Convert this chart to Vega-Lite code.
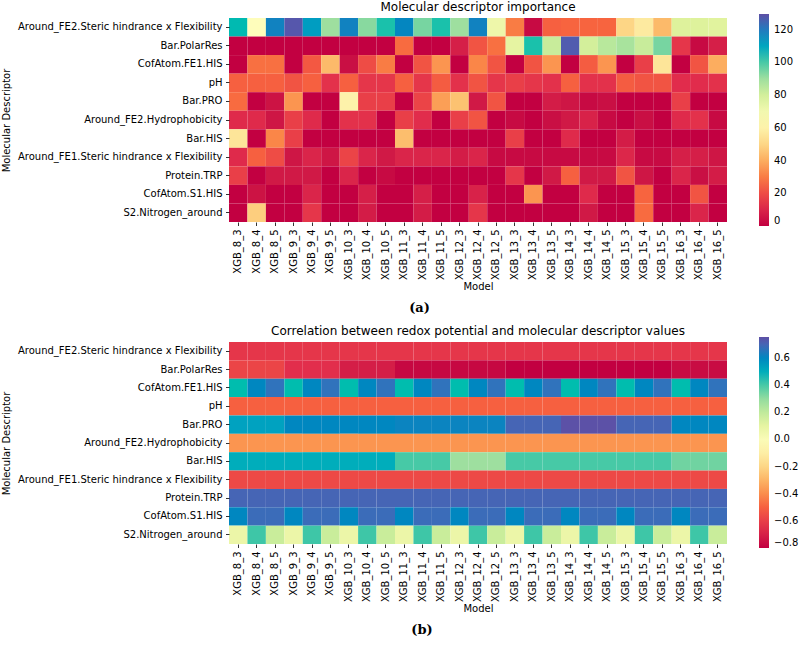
{
"$schema": "https://vega.github.io/schema/vega-lite/v6.json",
"padding": {"left": 1, "top": 1, "right": 2, "bottom": 0},
"config": {
 "font": "DejaVu Sans",
 "view": {"stroke": null},
 "axis": {"labelFont": "DejaVu Sans", "labelFontSize": 10, "labelColor": "#000", "titleFont": "DejaVu Sans", "titleFontSize": 10, "titleFontWeight": "normal", "titleColor": "#000", "tickColor": "#000", "tickSize": 3.5, "tickWidth": 0.8, "labelPadding": 3.5, "titlePadding": 4, "domain": false, "grid": false, "labelLimit": 400},
 "axisX": {"titlePadding": 2},
 "axisY": {"titlePadding": 18},
 "legend": {"labelFont": "DejaVu Sans", "labelFontSize": 10, "labelColor": "#000"},
 "title": {"font": "DejaVu Sans", "color": "#000"}
},
"datasets": {
"imp": [
{"model":"XGB_8_3","descriptor":"Around_FE2.Steric hindrance x Flexibility","value":105},
{"model":"XGB_8_4","descriptor":"Around_FE2.Steric hindrance x Flexibility","value":65},
{"model":"XGB_8_5","descriptor":"Around_FE2.Steric hindrance x Flexibility","value":118},
{"model":"XGB_9_3","descriptor":"Around_FE2.Steric hindrance x Flexibility","value":128},
{"model":"XGB_9_4","descriptor":"Around_FE2.Steric hindrance x Flexibility","value":112},
{"model":"XGB_9_5","descriptor":"Around_FE2.Steric hindrance x Flexibility","value":90},
{"model":"XGB_10_3","descriptor":"Around_FE2.Steric hindrance x Flexibility","value":118},
{"model":"XGB_10_4","descriptor":"Around_FE2.Steric hindrance x Flexibility","value":93},
{"model":"XGB_10_5","descriptor":"Around_FE2.Steric hindrance x Flexibility","value":103},
{"model":"XGB_11_3","descriptor":"Around_FE2.Steric hindrance x Flexibility","value":117},
{"model":"XGB_11_4","descriptor":"Around_FE2.Steric hindrance x Flexibility","value":95},
{"model":"XGB_11_5","descriptor":"Around_FE2.Steric hindrance x Flexibility","value":103},
{"model":"XGB_12_3","descriptor":"Around_FE2.Steric hindrance x Flexibility","value":90},
{"model":"XGB_12_4","descriptor":"Around_FE2.Steric hindrance x Flexibility","value":118},
{"model":"XGB_12_5","descriptor":"Around_FE2.Steric hindrance x Flexibility","value":72},
{"model":"XGB_13_3","descriptor":"Around_FE2.Steric hindrance x Flexibility","value":30},
{"model":"XGB_13_4","descriptor":"Around_FE2.Steric hindrance x Flexibility","value":2},
{"model":"XGB_13_5","descriptor":"Around_FE2.Steric hindrance x Flexibility","value":25},
{"model":"XGB_14_3","descriptor":"Around_FE2.Steric hindrance x Flexibility","value":26},
{"model":"XGB_14_4","descriptor":"Around_FE2.Steric hindrance x Flexibility","value":26},
{"model":"XGB_14_5","descriptor":"Around_FE2.Steric hindrance x Flexibility","value":26},
{"model":"XGB_15_3","descriptor":"Around_FE2.Steric hindrance x Flexibility","value":50},
{"model":"XGB_15_4","descriptor":"Around_FE2.Steric hindrance x Flexibility","value":57},
{"model":"XGB_15_5","descriptor":"Around_FE2.Steric hindrance x Flexibility","value":43},
{"model":"XGB_16_3","descriptor":"Around_FE2.Steric hindrance x Flexibility","value":78},
{"model":"XGB_16_4","descriptor":"Around_FE2.Steric hindrance x Flexibility","value":78},
{"model":"XGB_16_5","descriptor":"Around_FE2.Steric hindrance x Flexibility","value":77},
{"model":"XGB_8_3","descriptor":"Bar.PolarRes","value":0},
{"model":"XGB_8_4","descriptor":"Bar.PolarRes","value":0},
{"model":"XGB_8_5","descriptor":"Bar.PolarRes","value":0},
{"model":"XGB_9_3","descriptor":"Bar.PolarRes","value":0},
{"model":"XGB_9_4","descriptor":"Bar.PolarRes","value":0},
{"model":"XGB_9_5","descriptor":"Bar.PolarRes","value":0},
{"model":"XGB_10_3","descriptor":"Bar.PolarRes","value":0},
{"model":"XGB_10_4","descriptor":"Bar.PolarRes","value":0},
{"model":"XGB_10_5","descriptor":"Bar.PolarRes","value":0},
{"model":"XGB_11_3","descriptor":"Bar.PolarRes","value":27},
{"model":"XGB_11_4","descriptor":"Bar.PolarRes","value":0},
{"model":"XGB_11_5","descriptor":"Bar.PolarRes","value":0},
{"model":"XGB_12_3","descriptor":"Bar.PolarRes","value":8},
{"model":"XGB_12_4","descriptor":"Bar.PolarRes","value":22},
{"model":"XGB_12_5","descriptor":"Bar.PolarRes","value":28},
{"model":"XGB_13_3","descriptor":"Bar.PolarRes","value":75},
{"model":"XGB_13_4","descriptor":"Bar.PolarRes","value":103},
{"model":"XGB_13_5","descriptor":"Bar.PolarRes","value":82},
{"model":"XGB_14_3","descriptor":"Bar.PolarRes","value":127},
{"model":"XGB_14_4","descriptor":"Bar.PolarRes","value":80},
{"model":"XGB_14_5","descriptor":"Bar.PolarRes","value":85},
{"model":"XGB_15_3","descriptor":"Bar.PolarRes","value":88},
{"model":"XGB_15_4","descriptor":"Bar.PolarRes","value":82},
{"model":"XGB_15_5","descriptor":"Bar.PolarRes","value":95},
{"model":"XGB_16_3","descriptor":"Bar.PolarRes","value":15},
{"model":"XGB_16_4","descriptor":"Bar.PolarRes","value":2},
{"model":"XGB_16_5","descriptor":"Bar.PolarRes","value":8},
{"model":"XGB_8_3","descriptor":"CofAtom.FE1.HIS","value":0},
{"model":"XGB_8_4","descriptor":"CofAtom.FE1.HIS","value":28},
{"model":"XGB_8_5","descriptor":"CofAtom.FE1.HIS","value":28},
{"model":"XGB_9_3","descriptor":"CofAtom.FE1.HIS","value":0},
{"model":"XGB_9_4","descriptor":"CofAtom.FE1.HIS","value":23},
{"model":"XGB_9_5","descriptor":"CofAtom.FE1.HIS","value":43},
{"model":"XGB_10_3","descriptor":"CofAtom.FE1.HIS","value":3},
{"model":"XGB_10_4","descriptor":"CofAtom.FE1.HIS","value":20},
{"model":"XGB_10_5","descriptor":"CofAtom.FE1.HIS","value":30},
{"model":"XGB_11_3","descriptor":"CofAtom.FE1.HIS","value":0},
{"model":"XGB_11_4","descriptor":"CofAtom.FE1.HIS","value":22},
{"model":"XGB_11_5","descriptor":"CofAtom.FE1.HIS","value":35},
{"model":"XGB_12_3","descriptor":"CofAtom.FE1.HIS","value":0},
{"model":"XGB_12_4","descriptor":"CofAtom.FE1.HIS","value":32},
{"model":"XGB_12_5","descriptor":"CofAtom.FE1.HIS","value":22},
{"model":"XGB_13_3","descriptor":"CofAtom.FE1.HIS","value":0},
{"model":"XGB_13_4","descriptor":"CofAtom.FE1.HIS","value":22},
{"model":"XGB_13_5","descriptor":"CofAtom.FE1.HIS","value":35},
{"model":"XGB_14_3","descriptor":"CofAtom.FE1.HIS","value":0},
{"model":"XGB_14_4","descriptor":"CofAtom.FE1.HIS","value":24},
{"model":"XGB_14_5","descriptor":"CofAtom.FE1.HIS","value":35},
{"model":"XGB_15_3","descriptor":"CofAtom.FE1.HIS","value":0},
{"model":"XGB_15_4","descriptor":"CofAtom.FE1.HIS","value":17},
{"model":"XGB_15_5","descriptor":"CofAtom.FE1.HIS","value":55},
{"model":"XGB_16_3","descriptor":"CofAtom.FE1.HIS","value":0},
{"model":"XGB_16_4","descriptor":"CofAtom.FE1.HIS","value":22},
{"model":"XGB_16_5","descriptor":"CofAtom.FE1.HIS","value":40},
{"model":"XGB_8_3","descriptor":"pH","value":25},
{"model":"XGB_8_4","descriptor":"pH","value":25},
{"model":"XGB_8_5","descriptor":"pH","value":25},
{"model":"XGB_9_3","descriptor":"pH","value":22},
{"model":"XGB_9_4","descriptor":"pH","value":25},
{"model":"XGB_9_5","descriptor":"pH","value":14},
{"model":"XGB_10_3","descriptor":"pH","value":25},
{"model":"XGB_10_4","descriptor":"pH","value":15},
{"model":"XGB_10_5","descriptor":"pH","value":15},
{"model":"XGB_11_3","descriptor":"pH","value":25},
{"model":"XGB_11_4","descriptor":"pH","value":15},
{"model":"XGB_11_5","descriptor":"pH","value":24},
{"model":"XGB_12_3","descriptor":"pH","value":14},
{"model":"XGB_12_4","descriptor":"pH","value":22},
{"model":"XGB_12_5","descriptor":"pH","value":15},
{"model":"XGB_13_3","descriptor":"pH","value":17},
{"model":"XGB_13_4","descriptor":"pH","value":15},
{"model":"XGB_13_5","descriptor":"pH","value":14},
{"model":"XGB_14_3","descriptor":"pH","value":25},
{"model":"XGB_14_4","descriptor":"pH","value":14},
{"model":"XGB_14_5","descriptor":"pH","value":14},
{"model":"XGB_15_3","descriptor":"pH","value":24},
{"model":"XGB_15_4","descriptor":"pH","value":22},
{"model":"XGB_15_5","descriptor":"pH","value":22},
{"model":"XGB_16_3","descriptor":"pH","value":13},
{"model":"XGB_16_4","descriptor":"pH","value":13},
{"model":"XGB_16_5","descriptor":"pH","value":14},
{"model":"XGB_8_3","descriptor":"Bar.PRO","value":27},
{"model":"XGB_8_4","descriptor":"Bar.PRO","value":0},
{"model":"XGB_8_5","descriptor":"Bar.PRO","value":4},
{"model":"XGB_9_3","descriptor":"Bar.PRO","value":35},
{"model":"XGB_9_4","descriptor":"Bar.PRO","value":0},
{"model":"XGB_9_5","descriptor":"Bar.PRO","value":0},
{"model":"XGB_10_3","descriptor":"Bar.PRO","value":60},
{"model":"XGB_10_4","descriptor":"Bar.PRO","value":17},
{"model":"XGB_10_5","descriptor":"Bar.PRO","value":17},
{"model":"XGB_11_3","descriptor":"Bar.PRO","value":0},
{"model":"XGB_11_4","descriptor":"Bar.PRO","value":18},
{"model":"XGB_11_5","descriptor":"Bar.PRO","value":37},
{"model":"XGB_12_3","descriptor":"Bar.PRO","value":45},
{"model":"XGB_12_4","descriptor":"Bar.PRO","value":6},
{"model":"XGB_12_5","descriptor":"Bar.PRO","value":22},
{"model":"XGB_13_3","descriptor":"Bar.PRO","value":0},
{"model":"XGB_13_4","descriptor":"Bar.PRO","value":0},
{"model":"XGB_13_5","descriptor":"Bar.PRO","value":7},
{"model":"XGB_14_3","descriptor":"Bar.PRO","value":5},
{"model":"XGB_14_4","descriptor":"Bar.PRO","value":2},
{"model":"XGB_14_5","descriptor":"Bar.PRO","value":3},
{"model":"XGB_15_3","descriptor":"Bar.PRO","value":0},
{"model":"XGB_15_4","descriptor":"Bar.PRO","value":0},
{"model":"XGB_15_5","descriptor":"Bar.PRO","value":0},
{"model":"XGB_16_3","descriptor":"Bar.PRO","value":17},
{"model":"XGB_16_4","descriptor":"Bar.PRO","value":0},
{"model":"XGB_16_5","descriptor":"Bar.PRO","value":0},
{"model":"XGB_8_3","descriptor":"Around_FE2.Hydrophobicity","value":12},
{"model":"XGB_8_4","descriptor":"Around_FE2.Hydrophobicity","value":12},
{"model":"XGB_8_5","descriptor":"Around_FE2.Hydrophobicity","value":5},
{"model":"XGB_9_3","descriptor":"Around_FE2.Hydrophobicity","value":17},
{"model":"XGB_9_4","descriptor":"Around_FE2.Hydrophobicity","value":12},
{"model":"XGB_9_5","descriptor":"Around_FE2.Hydrophobicity","value":0},
{"model":"XGB_10_3","descriptor":"Around_FE2.Hydrophobicity","value":14},
{"model":"XGB_10_4","descriptor":"Around_FE2.Hydrophobicity","value":14},
{"model":"XGB_10_5","descriptor":"Around_FE2.Hydrophobicity","value":0},
{"model":"XGB_11_3","descriptor":"Around_FE2.Hydrophobicity","value":17},
{"model":"XGB_11_4","descriptor":"Around_FE2.Hydrophobicity","value":13},
{"model":"XGB_11_5","descriptor":"Around_FE2.Hydrophobicity","value":0},
{"model":"XGB_12_3","descriptor":"Around_FE2.Hydrophobicity","value":17},
{"model":"XGB_12_4","descriptor":"Around_FE2.Hydrophobicity","value":22},
{"model":"XGB_12_5","descriptor":"Around_FE2.Hydrophobicity","value":0},
{"model":"XGB_13_3","descriptor":"Around_FE2.Hydrophobicity","value":2},
{"model":"XGB_13_4","descriptor":"Around_FE2.Hydrophobicity","value":0},
{"model":"XGB_13_5","descriptor":"Around_FE2.Hydrophobicity","value":3},
{"model":"XGB_14_3","descriptor":"Around_FE2.Hydrophobicity","value":6},
{"model":"XGB_14_4","descriptor":"Around_FE2.Hydrophobicity","value":9},
{"model":"XGB_14_5","descriptor":"Around_FE2.Hydrophobicity","value":2},
{"model":"XGB_15_3","descriptor":"Around_FE2.Hydrophobicity","value":0},
{"model":"XGB_15_4","descriptor":"Around_FE2.Hydrophobicity","value":3},
{"model":"XGB_15_5","descriptor":"Around_FE2.Hydrophobicity","value":0},
{"model":"XGB_16_3","descriptor":"Around_FE2.Hydrophobicity","value":12},
{"model":"XGB_16_4","descriptor":"Around_FE2.Hydrophobicity","value":14},
{"model":"XGB_16_5","descriptor":"Around_FE2.Hydrophobicity","value":2},
{"model":"XGB_8_3","descriptor":"Bar.HIS","value":55},
{"model":"XGB_8_4","descriptor":"Bar.HIS","value":0},
{"model":"XGB_8_5","descriptor":"Bar.HIS","value":32},
{"model":"XGB_9_3","descriptor":"Bar.HIS","value":17},
{"model":"XGB_9_4","descriptor":"Bar.HIS","value":0},
{"model":"XGB_9_5","descriptor":"Bar.HIS","value":0},
{"model":"XGB_10_3","descriptor":"Bar.HIS","value":0},
{"model":"XGB_10_4","descriptor":"Bar.HIS","value":0},
{"model":"XGB_10_5","descriptor":"Bar.HIS","value":0},
{"model":"XGB_11_3","descriptor":"Bar.HIS","value":44},
{"model":"XGB_11_4","descriptor":"Bar.HIS","value":0},
{"model":"XGB_11_5","descriptor":"Bar.HIS","value":0},
{"model":"XGB_12_3","descriptor":"Bar.HIS","value":0},
{"model":"XGB_12_4","descriptor":"Bar.HIS","value":0},
{"model":"XGB_12_5","descriptor":"Bar.HIS","value":0},
{"model":"XGB_13_3","descriptor":"Bar.HIS","value":17},
{"model":"XGB_13_4","descriptor":"Bar.HIS","value":0},
{"model":"XGB_13_5","descriptor":"Bar.HIS","value":0},
{"model":"XGB_14_3","descriptor":"Bar.HIS","value":12},
{"model":"XGB_14_4","descriptor":"Bar.HIS","value":0},
{"model":"XGB_14_5","descriptor":"Bar.HIS","value":0},
{"model":"XGB_15_3","descriptor":"Bar.HIS","value":7},
{"model":"XGB_15_4","descriptor":"Bar.HIS","value":0},
{"model":"XGB_15_5","descriptor":"Bar.HIS","value":0},
{"model":"XGB_16_3","descriptor":"Bar.HIS","value":0},
{"model":"XGB_16_4","descriptor":"Bar.HIS","value":0},
{"model":"XGB_16_5","descriptor":"Bar.HIS","value":0},
{"model":"XGB_8_3","descriptor":"Around_FE1.Steric hindrance x Flexibility","value":12},
{"model":"XGB_8_4","descriptor":"Around_FE1.Steric hindrance x Flexibility","value":25},
{"model":"XGB_8_5","descriptor":"Around_FE1.Steric hindrance x Flexibility","value":20},
{"model":"XGB_9_3","descriptor":"Around_FE1.Steric hindrance x Flexibility","value":5},
{"model":"XGB_9_4","descriptor":"Around_FE1.Steric hindrance x Flexibility","value":10},
{"model":"XGB_9_5","descriptor":"Around_FE1.Steric hindrance x Flexibility","value":5},
{"model":"XGB_10_3","descriptor":"Around_FE1.Steric hindrance x Flexibility","value":18},
{"model":"XGB_10_4","descriptor":"Around_FE1.Steric hindrance x Flexibility","value":10},
{"model":"XGB_10_5","descriptor":"Around_FE1.Steric hindrance x Flexibility","value":6},
{"model":"XGB_11_3","descriptor":"Around_FE1.Steric hindrance x Flexibility","value":10},
{"model":"XGB_11_4","descriptor":"Around_FE1.Steric hindrance x Flexibility","value":10},
{"model":"XGB_11_5","descriptor":"Around_FE1.Steric hindrance x Flexibility","value":10},
{"model":"XGB_12_3","descriptor":"Around_FE1.Steric hindrance x Flexibility","value":7},
{"model":"XGB_12_4","descriptor":"Around_FE1.Steric hindrance x Flexibility","value":10},
{"model":"XGB_12_5","descriptor":"Around_FE1.Steric hindrance x Flexibility","value":2},
{"model":"XGB_13_3","descriptor":"Around_FE1.Steric hindrance x Flexibility","value":2},
{"model":"XGB_13_4","descriptor":"Around_FE1.Steric hindrance x Flexibility","value":2},
{"model":"XGB_13_5","descriptor":"Around_FE1.Steric hindrance x Flexibility","value":2},
{"model":"XGB_14_3","descriptor":"Around_FE1.Steric hindrance x Flexibility","value":2},
{"model":"XGB_14_4","descriptor":"Around_FE1.Steric hindrance x Flexibility","value":2},
{"model":"XGB_14_5","descriptor":"Around_FE1.Steric hindrance x Flexibility","value":2},
{"model":"XGB_15_3","descriptor":"Around_FE1.Steric hindrance x Flexibility","value":11},
{"model":"XGB_15_4","descriptor":"Around_FE1.Steric hindrance x Flexibility","value":2},
{"model":"XGB_15_5","descriptor":"Around_FE1.Steric hindrance x Flexibility","value":2},
{"model":"XGB_16_3","descriptor":"Around_FE1.Steric hindrance x Flexibility","value":8},
{"model":"XGB_16_4","descriptor":"Around_FE1.Steric hindrance x Flexibility","value":8},
{"model":"XGB_16_5","descriptor":"Around_FE1.Steric hindrance x Flexibility","value":5},
{"model":"XGB_8_3","descriptor":"Protein.TRP","value":17},
{"model":"XGB_8_4","descriptor":"Protein.TRP","value":0},
{"model":"XGB_8_5","descriptor":"Protein.TRP","value":6},
{"model":"XGB_9_3","descriptor":"Protein.TRP","value":6},
{"model":"XGB_9_4","descriptor":"Protein.TRP","value":6},
{"model":"XGB_9_5","descriptor":"Protein.TRP","value":0},
{"model":"XGB_10_3","descriptor":"Protein.TRP","value":10},
{"model":"XGB_10_4","descriptor":"Protein.TRP","value":0},
{"model":"XGB_10_5","descriptor":"Protein.TRP","value":2},
{"model":"XGB_11_3","descriptor":"Protein.TRP","value":0},
{"model":"XGB_11_4","descriptor":"Protein.TRP","value":0},
{"model":"XGB_11_5","descriptor":"Protein.TRP","value":0},
{"model":"XGB_12_3","descriptor":"Protein.TRP","value":0},
{"model":"XGB_12_4","descriptor":"Protein.TRP","value":0},
{"model":"XGB_12_5","descriptor":"Protein.TRP","value":0},
{"model":"XGB_13_3","descriptor":"Protein.TRP","value":15},
{"model":"XGB_13_4","descriptor":"Protein.TRP","value":0},
{"model":"XGB_13_5","descriptor":"Protein.TRP","value":6},
{"model":"XGB_14_3","descriptor":"Protein.TRP","value":25},
{"model":"XGB_14_4","descriptor":"Protein.TRP","value":6},
{"model":"XGB_14_5","descriptor":"Protein.TRP","value":6},
{"model":"XGB_15_3","descriptor":"Protein.TRP","value":22},
{"model":"XGB_15_4","descriptor":"Protein.TRP","value":5},
{"model":"XGB_15_5","descriptor":"Protein.TRP","value":0},
{"model":"XGB_16_3","descriptor":"Protein.TRP","value":10},
{"model":"XGB_16_4","descriptor":"Protein.TRP","value":3},
{"model":"XGB_16_5","descriptor":"Protein.TRP","value":7},
{"model":"XGB_8_3","descriptor":"CofAtom.S1.HIS","value":0},
{"model":"XGB_8_4","descriptor":"CofAtom.S1.HIS","value":4},
{"model":"XGB_8_5","descriptor":"CofAtom.S1.HIS","value":0},
{"model":"XGB_9_3","descriptor":"CofAtom.S1.HIS","value":0},
{"model":"XGB_9_4","descriptor":"CofAtom.S1.HIS","value":10},
{"model":"XGB_9_5","descriptor":"CofAtom.S1.HIS","value":0},
{"model":"XGB_10_3","descriptor":"CofAtom.S1.HIS","value":0},
{"model":"XGB_10_4","descriptor":"CofAtom.S1.HIS","value":8},
{"model":"XGB_10_5","descriptor":"CofAtom.S1.HIS","value":0},
{"model":"XGB_11_3","descriptor":"CofAtom.S1.HIS","value":0},
{"model":"XGB_11_4","descriptor":"CofAtom.S1.HIS","value":8},
{"model":"XGB_11_5","descriptor":"CofAtom.S1.HIS","value":0},
{"model":"XGB_12_3","descriptor":"CofAtom.S1.HIS","value":0},
{"model":"XGB_12_4","descriptor":"CofAtom.S1.HIS","value":9},
{"model":"XGB_12_5","descriptor":"CofAtom.S1.HIS","value":0},
{"model":"XGB_13_3","descriptor":"CofAtom.S1.HIS","value":0},
{"model":"XGB_13_4","descriptor":"CofAtom.S1.HIS","value":35},
{"model":"XGB_13_5","descriptor":"CofAtom.S1.HIS","value":0},
{"model":"XGB_14_3","descriptor":"CofAtom.S1.HIS","value":0},
{"model":"XGB_14_4","descriptor":"CofAtom.S1.HIS","value":12},
{"model":"XGB_14_5","descriptor":"CofAtom.S1.HIS","value":0},
{"model":"XGB_15_3","descriptor":"CofAtom.S1.HIS","value":0},
{"model":"XGB_15_4","descriptor":"CofAtom.S1.HIS","value":26},
{"model":"XGB_15_5","descriptor":"CofAtom.S1.HIS","value":0},
{"model":"XGB_16_3","descriptor":"CofAtom.S1.HIS","value":0},
{"model":"XGB_16_4","descriptor":"CofAtom.S1.HIS","value":22},
{"model":"XGB_16_5","descriptor":"CofAtom.S1.HIS","value":0},
{"model":"XGB_8_3","descriptor":"S2.Nitrogen_around","value":0},
{"model":"XGB_8_4","descriptor":"S2.Nitrogen_around","value":48},
{"model":"XGB_8_5","descriptor":"S2.Nitrogen_around","value":0},
{"model":"XGB_9_3","descriptor":"S2.Nitrogen_around","value":0},
{"model":"XGB_9_4","descriptor":"S2.Nitrogen_around","value":15},
{"model":"XGB_9_5","descriptor":"S2.Nitrogen_around","value":0},
{"model":"XGB_10_3","descriptor":"S2.Nitrogen_around","value":0},
{"model":"XGB_10_4","descriptor":"S2.Nitrogen_around","value":7},
{"model":"XGB_10_5","descriptor":"S2.Nitrogen_around","value":0},
{"model":"XGB_11_3","descriptor":"S2.Nitrogen_around","value":0},
{"model":"XGB_11_4","descriptor":"S2.Nitrogen_around","value":7},
{"model":"XGB_11_5","descriptor":"S2.Nitrogen_around","value":0},
{"model":"XGB_12_3","descriptor":"S2.Nitrogen_around","value":0},
{"model":"XGB_12_4","descriptor":"S2.Nitrogen_around","value":15},
{"model":"XGB_12_5","descriptor":"S2.Nitrogen_around","value":0},
{"model":"XGB_13_3","descriptor":"S2.Nitrogen_around","value":0},
{"model":"XGB_13_4","descriptor":"S2.Nitrogen_around","value":0},
{"model":"XGB_13_5","descriptor":"S2.Nitrogen_around","value":0},
{"model":"XGB_14_3","descriptor":"S2.Nitrogen_around","value":0},
{"model":"XGB_14_4","descriptor":"S2.Nitrogen_around","value":6},
{"model":"XGB_14_5","descriptor":"S2.Nitrogen_around","value":0},
{"model":"XGB_15_3","descriptor":"S2.Nitrogen_around","value":0},
{"model":"XGB_15_4","descriptor":"S2.Nitrogen_around","value":27},
{"model":"XGB_15_5","descriptor":"S2.Nitrogen_around","value":0},
{"model":"XGB_16_3","descriptor":"S2.Nitrogen_around","value":0},
{"model":"XGB_16_4","descriptor":"S2.Nitrogen_around","value":10},
{"model":"XGB_16_5","descriptor":"S2.Nitrogen_around","value":0}
],
"cor": [
{"model":"XGB_8_3","descriptor":"Around_FE2.Steric hindrance x Flexibility","value":-0.62},
{"model":"XGB_8_4","descriptor":"Around_FE2.Steric hindrance x Flexibility","value":-0.62},
{"model":"XGB_8_5","descriptor":"Around_FE2.Steric hindrance x Flexibility","value":-0.62},
{"model":"XGB_9_3","descriptor":"Around_FE2.Steric hindrance x Flexibility","value":-0.62},
{"model":"XGB_9_4","descriptor":"Around_FE2.Steric hindrance x Flexibility","value":-0.62},
{"model":"XGB_9_5","descriptor":"Around_FE2.Steric hindrance x Flexibility","value":-0.62},
{"model":"XGB_10_3","descriptor":"Around_FE2.Steric hindrance x Flexibility","value":-0.62},
{"model":"XGB_10_4","descriptor":"Around_FE2.Steric hindrance x Flexibility","value":-0.62},
{"model":"XGB_10_5","descriptor":"Around_FE2.Steric hindrance x Flexibility","value":-0.62},
{"model":"XGB_11_3","descriptor":"Around_FE2.Steric hindrance x Flexibility","value":-0.62},
{"model":"XGB_11_4","descriptor":"Around_FE2.Steric hindrance x Flexibility","value":-0.62},
{"model":"XGB_11_5","descriptor":"Around_FE2.Steric hindrance x Flexibility","value":-0.62},
{"model":"XGB_12_3","descriptor":"Around_FE2.Steric hindrance x Flexibility","value":-0.62},
{"model":"XGB_12_4","descriptor":"Around_FE2.Steric hindrance x Flexibility","value":-0.62},
{"model":"XGB_12_5","descriptor":"Around_FE2.Steric hindrance x Flexibility","value":-0.62},
{"model":"XGB_13_3","descriptor":"Around_FE2.Steric hindrance x Flexibility","value":-0.62},
{"model":"XGB_13_4","descriptor":"Around_FE2.Steric hindrance x Flexibility","value":-0.62},
{"model":"XGB_13_5","descriptor":"Around_FE2.Steric hindrance x Flexibility","value":-0.62},
{"model":"XGB_14_3","descriptor":"Around_FE2.Steric hindrance x Flexibility","value":-0.62},
{"model":"XGB_14_4","descriptor":"Around_FE2.Steric hindrance x Flexibility","value":-0.62},
{"model":"XGB_14_5","descriptor":"Around_FE2.Steric hindrance x Flexibility","value":-0.62},
{"model":"XGB_15_3","descriptor":"Around_FE2.Steric hindrance x Flexibility","value":-0.62},
{"model":"XGB_15_4","descriptor":"Around_FE2.Steric hindrance x Flexibility","value":-0.62},
{"model":"XGB_15_5","descriptor":"Around_FE2.Steric hindrance x Flexibility","value":-0.62},
{"model":"XGB_16_3","descriptor":"Around_FE2.Steric hindrance x Flexibility","value":-0.62},
{"model":"XGB_16_4","descriptor":"Around_FE2.Steric hindrance x Flexibility","value":-0.62},
{"model":"XGB_16_5","descriptor":"Around_FE2.Steric hindrance x Flexibility","value":-0.62},
{"model":"XGB_8_3","descriptor":"Bar.PolarRes","value":-0.58},
{"model":"XGB_8_4","descriptor":"Bar.PolarRes","value":-0.58},
{"model":"XGB_8_5","descriptor":"Bar.PolarRes","value":-0.58},
{"model":"XGB_9_3","descriptor":"Bar.PolarRes","value":-0.64},
{"model":"XGB_9_4","descriptor":"Bar.PolarRes","value":-0.64},
{"model":"XGB_9_5","descriptor":"Bar.PolarRes","value":-0.64},
{"model":"XGB_10_3","descriptor":"Bar.PolarRes","value":-0.71},
{"model":"XGB_10_4","descriptor":"Bar.PolarRes","value":-0.71},
{"model":"XGB_10_5","descriptor":"Bar.PolarRes","value":-0.71},
{"model":"XGB_11_3","descriptor":"Bar.PolarRes","value":-0.78},
{"model":"XGB_11_4","descriptor":"Bar.PolarRes","value":-0.78},
{"model":"XGB_11_5","descriptor":"Bar.PolarRes","value":-0.78},
{"model":"XGB_12_3","descriptor":"Bar.PolarRes","value":-0.78},
{"model":"XGB_12_4","descriptor":"Bar.PolarRes","value":-0.78},
{"model":"XGB_12_5","descriptor":"Bar.PolarRes","value":-0.78},
{"model":"XGB_13_3","descriptor":"Bar.PolarRes","value":-0.8},
{"model":"XGB_13_4","descriptor":"Bar.PolarRes","value":-0.8},
{"model":"XGB_13_5","descriptor":"Bar.PolarRes","value":-0.8},
{"model":"XGB_14_3","descriptor":"Bar.PolarRes","value":-0.8},
{"model":"XGB_14_4","descriptor":"Bar.PolarRes","value":-0.8},
{"model":"XGB_14_5","descriptor":"Bar.PolarRes","value":-0.8},
{"model":"XGB_15_3","descriptor":"Bar.PolarRes","value":-0.8},
{"model":"XGB_15_4","descriptor":"Bar.PolarRes","value":-0.8},
{"model":"XGB_15_5","descriptor":"Bar.PolarRes","value":-0.8},
{"model":"XGB_16_3","descriptor":"Bar.PolarRes","value":-0.77},
{"model":"XGB_16_4","descriptor":"Bar.PolarRes","value":-0.77},
{"model":"XGB_16_5","descriptor":"Bar.PolarRes","value":-0.77},
{"model":"XGB_8_3","descriptor":"CofAtom.FE1.HIS","value":0.45},
{"model":"XGB_8_4","descriptor":"CofAtom.FE1.HIS","value":0.6},
{"model":"XGB_8_5","descriptor":"CofAtom.FE1.HIS","value":0.66},
{"model":"XGB_9_3","descriptor":"CofAtom.FE1.HIS","value":0.45},
{"model":"XGB_9_4","descriptor":"CofAtom.FE1.HIS","value":0.6},
{"model":"XGB_9_5","descriptor":"CofAtom.FE1.HIS","value":0.66},
{"model":"XGB_10_3","descriptor":"CofAtom.FE1.HIS","value":0.45},
{"model":"XGB_10_4","descriptor":"CofAtom.FE1.HIS","value":0.6},
{"model":"XGB_10_5","descriptor":"CofAtom.FE1.HIS","value":0.66},
{"model":"XGB_11_3","descriptor":"CofAtom.FE1.HIS","value":0.45},
{"model":"XGB_11_4","descriptor":"CofAtom.FE1.HIS","value":0.6},
{"model":"XGB_11_5","descriptor":"CofAtom.FE1.HIS","value":0.66},
{"model":"XGB_12_3","descriptor":"CofAtom.FE1.HIS","value":0.45},
{"model":"XGB_12_4","descriptor":"CofAtom.FE1.HIS","value":0.6},
{"model":"XGB_12_5","descriptor":"CofAtom.FE1.HIS","value":0.66},
{"model":"XGB_13_3","descriptor":"CofAtom.FE1.HIS","value":0.45},
{"model":"XGB_13_4","descriptor":"CofAtom.FE1.HIS","value":0.6},
{"model":"XGB_13_5","descriptor":"CofAtom.FE1.HIS","value":0.66},
{"model":"XGB_14_3","descriptor":"CofAtom.FE1.HIS","value":0.45},
{"model":"XGB_14_4","descriptor":"CofAtom.FE1.HIS","value":0.6},
{"model":"XGB_14_5","descriptor":"CofAtom.FE1.HIS","value":0.66},
{"model":"XGB_15_3","descriptor":"CofAtom.FE1.HIS","value":0.45},
{"model":"XGB_15_4","descriptor":"CofAtom.FE1.HIS","value":0.6},
{"model":"XGB_15_5","descriptor":"CofAtom.FE1.HIS","value":0.66},
{"model":"XGB_16_3","descriptor":"CofAtom.FE1.HIS","value":0.45},
{"model":"XGB_16_4","descriptor":"CofAtom.FE1.HIS","value":0.6},
{"model":"XGB_16_5","descriptor":"CofAtom.FE1.HIS","value":0.66},
{"model":"XGB_8_3","descriptor":"pH","value":-0.5},
{"model":"XGB_8_4","descriptor":"pH","value":-0.5},
{"model":"XGB_8_5","descriptor":"pH","value":-0.5},
{"model":"XGB_9_3","descriptor":"pH","value":-0.5},
{"model":"XGB_9_4","descriptor":"pH","value":-0.5},
{"model":"XGB_9_5","descriptor":"pH","value":-0.5},
{"model":"XGB_10_3","descriptor":"pH","value":-0.5},
{"model":"XGB_10_4","descriptor":"pH","value":-0.5},
{"model":"XGB_10_5","descriptor":"pH","value":-0.5},
{"model":"XGB_11_3","descriptor":"pH","value":-0.5},
{"model":"XGB_11_4","descriptor":"pH","value":-0.5},
{"model":"XGB_11_5","descriptor":"pH","value":-0.5},
{"model":"XGB_12_3","descriptor":"pH","value":-0.5},
{"model":"XGB_12_4","descriptor":"pH","value":-0.5},
{"model":"XGB_12_5","descriptor":"pH","value":-0.5},
{"model":"XGB_13_3","descriptor":"pH","value":-0.5},
{"model":"XGB_13_4","descriptor":"pH","value":-0.5},
{"model":"XGB_13_5","descriptor":"pH","value":-0.5},
{"model":"XGB_14_3","descriptor":"pH","value":-0.5},
{"model":"XGB_14_4","descriptor":"pH","value":-0.5},
{"model":"XGB_14_5","descriptor":"pH","value":-0.5},
{"model":"XGB_15_3","descriptor":"pH","value":-0.5},
{"model":"XGB_15_4","descriptor":"pH","value":-0.5},
{"model":"XGB_15_5","descriptor":"pH","value":-0.5},
{"model":"XGB_16_3","descriptor":"pH","value":-0.5},
{"model":"XGB_16_4","descriptor":"pH","value":-0.5},
{"model":"XGB_16_5","descriptor":"pH","value":-0.5},
{"model":"XGB_8_3","descriptor":"Bar.PRO","value":0.53},
{"model":"XGB_8_4","descriptor":"Bar.PRO","value":0.53},
{"model":"XGB_8_5","descriptor":"Bar.PRO","value":0.53},
{"model":"XGB_9_3","descriptor":"Bar.PRO","value":0.6},
{"model":"XGB_9_4","descriptor":"Bar.PRO","value":0.6},
{"model":"XGB_9_5","descriptor":"Bar.PRO","value":0.6},
{"model":"XGB_10_3","descriptor":"Bar.PRO","value":0.6},
{"model":"XGB_10_4","descriptor":"Bar.PRO","value":0.6},
{"model":"XGB_10_5","descriptor":"Bar.PRO","value":0.6},
{"model":"XGB_11_3","descriptor":"Bar.PRO","value":0.61},
{"model":"XGB_11_4","descriptor":"Bar.PRO","value":0.61},
{"model":"XGB_11_5","descriptor":"Bar.PRO","value":0.61},
{"model":"XGB_12_3","descriptor":"Bar.PRO","value":0.61},
{"model":"XGB_12_4","descriptor":"Bar.PRO","value":0.61},
{"model":"XGB_12_5","descriptor":"Bar.PRO","value":0.61},
{"model":"XGB_13_3","descriptor":"Bar.PRO","value":0.7},
{"model":"XGB_13_4","descriptor":"Bar.PRO","value":0.7},
{"model":"XGB_13_5","descriptor":"Bar.PRO","value":0.7},
{"model":"XGB_14_3","descriptor":"Bar.PRO","value":0.75},
{"model":"XGB_14_4","descriptor":"Bar.PRO","value":0.75},
{"model":"XGB_14_5","descriptor":"Bar.PRO","value":0.75},
{"model":"XGB_15_3","descriptor":"Bar.PRO","value":0.7},
{"model":"XGB_15_4","descriptor":"Bar.PRO","value":0.7},
{"model":"XGB_15_5","descriptor":"Bar.PRO","value":0.7},
{"model":"XGB_16_3","descriptor":"Bar.PRO","value":0.6},
{"model":"XGB_16_4","descriptor":"Bar.PRO","value":0.6},
{"model":"XGB_16_5","descriptor":"Bar.PRO","value":0.6},
{"model":"XGB_8_3","descriptor":"Around_FE2.Hydrophobicity","value":-0.38},
{"model":"XGB_8_4","descriptor":"Around_FE2.Hydrophobicity","value":-0.38},
{"model":"XGB_8_5","descriptor":"Around_FE2.Hydrophobicity","value":-0.38},
{"model":"XGB_9_3","descriptor":"Around_FE2.Hydrophobicity","value":-0.38},
{"model":"XGB_9_4","descriptor":"Around_FE2.Hydrophobicity","value":-0.38},
{"model":"XGB_9_5","descriptor":"Around_FE2.Hydrophobicity","value":-0.38},
{"model":"XGB_10_3","descriptor":"Around_FE2.Hydrophobicity","value":-0.38},
{"model":"XGB_10_4","descriptor":"Around_FE2.Hydrophobicity","value":-0.38},
{"model":"XGB_10_5","descriptor":"Around_FE2.Hydrophobicity","value":-0.38},
{"model":"XGB_11_3","descriptor":"Around_FE2.Hydrophobicity","value":-0.38},
{"model":"XGB_11_4","descriptor":"Around_FE2.Hydrophobicity","value":-0.38},
{"model":"XGB_11_5","descriptor":"Around_FE2.Hydrophobicity","value":-0.38},
{"model":"XGB_12_3","descriptor":"Around_FE2.Hydrophobicity","value":-0.38},
{"model":"XGB_12_4","descriptor":"Around_FE2.Hydrophobicity","value":-0.38},
{"model":"XGB_12_5","descriptor":"Around_FE2.Hydrophobicity","value":-0.38},
{"model":"XGB_13_3","descriptor":"Around_FE2.Hydrophobicity","value":-0.38},
{"model":"XGB_13_4","descriptor":"Around_FE2.Hydrophobicity","value":-0.38},
{"model":"XGB_13_5","descriptor":"Around_FE2.Hydrophobicity","value":-0.38},
{"model":"XGB_14_3","descriptor":"Around_FE2.Hydrophobicity","value":-0.38},
{"model":"XGB_14_4","descriptor":"Around_FE2.Hydrophobicity","value":-0.38},
{"model":"XGB_14_5","descriptor":"Around_FE2.Hydrophobicity","value":-0.38},
{"model":"XGB_15_3","descriptor":"Around_FE2.Hydrophobicity","value":-0.38},
{"model":"XGB_15_4","descriptor":"Around_FE2.Hydrophobicity","value":-0.38},
{"model":"XGB_15_5","descriptor":"Around_FE2.Hydrophobicity","value":-0.38},
{"model":"XGB_16_3","descriptor":"Around_FE2.Hydrophobicity","value":-0.38},
{"model":"XGB_16_4","descriptor":"Around_FE2.Hydrophobicity","value":-0.38},
{"model":"XGB_16_5","descriptor":"Around_FE2.Hydrophobicity","value":-0.38},
{"model":"XGB_8_3","descriptor":"Bar.HIS","value":0.5},
{"model":"XGB_8_4","descriptor":"Bar.HIS","value":0.5},
{"model":"XGB_8_5","descriptor":"Bar.HIS","value":0.5},
{"model":"XGB_9_3","descriptor":"Bar.HIS","value":0.5},
{"model":"XGB_9_4","descriptor":"Bar.HIS","value":0.5},
{"model":"XGB_9_5","descriptor":"Bar.HIS","value":0.5},
{"model":"XGB_10_3","descriptor":"Bar.HIS","value":0.5},
{"model":"XGB_10_4","descriptor":"Bar.HIS","value":0.5},
{"model":"XGB_10_5","descriptor":"Bar.HIS","value":0.5},
{"model":"XGB_11_3","descriptor":"Bar.HIS","value":0.4},
{"model":"XGB_11_4","descriptor":"Bar.HIS","value":0.4},
{"model":"XGB_11_5","descriptor":"Bar.HIS","value":0.4},
{"model":"XGB_12_3","descriptor":"Bar.HIS","value":0.28},
{"model":"XGB_12_4","descriptor":"Bar.HIS","value":0.28},
{"model":"XGB_12_5","descriptor":"Bar.HIS","value":0.28},
{"model":"XGB_13_3","descriptor":"Bar.HIS","value":0.4},
{"model":"XGB_13_4","descriptor":"Bar.HIS","value":0.4},
{"model":"XGB_13_5","descriptor":"Bar.HIS","value":0.4},
{"model":"XGB_14_3","descriptor":"Bar.HIS","value":0.4},
{"model":"XGB_14_4","descriptor":"Bar.HIS","value":0.4},
{"model":"XGB_14_5","descriptor":"Bar.HIS","value":0.4},
{"model":"XGB_15_3","descriptor":"Bar.HIS","value":0.4},
{"model":"XGB_15_4","descriptor":"Bar.HIS","value":0.4},
{"model":"XGB_15_5","descriptor":"Bar.HIS","value":0.4},
{"model":"XGB_16_3","descriptor":"Bar.HIS","value":0.35},
{"model":"XGB_16_4","descriptor":"Bar.HIS","value":0.35},
{"model":"XGB_16_5","descriptor":"Bar.HIS","value":0.35},
{"model":"XGB_8_3","descriptor":"Around_FE1.Steric hindrance x Flexibility","value":-0.57},
{"model":"XGB_8_4","descriptor":"Around_FE1.Steric hindrance x Flexibility","value":-0.57},
{"model":"XGB_8_5","descriptor":"Around_FE1.Steric hindrance x Flexibility","value":-0.57},
{"model":"XGB_9_3","descriptor":"Around_FE1.Steric hindrance x Flexibility","value":-0.57},
{"model":"XGB_9_4","descriptor":"Around_FE1.Steric hindrance x Flexibility","value":-0.57},
{"model":"XGB_9_5","descriptor":"Around_FE1.Steric hindrance x Flexibility","value":-0.57},
{"model":"XGB_10_3","descriptor":"Around_FE1.Steric hindrance x Flexibility","value":-0.57},
{"model":"XGB_10_4","descriptor":"Around_FE1.Steric hindrance x Flexibility","value":-0.57},
{"model":"XGB_10_5","descriptor":"Around_FE1.Steric hindrance x Flexibility","value":-0.57},
{"model":"XGB_11_3","descriptor":"Around_FE1.Steric hindrance x Flexibility","value":-0.57},
{"model":"XGB_11_4","descriptor":"Around_FE1.Steric hindrance x Flexibility","value":-0.57},
{"model":"XGB_11_5","descriptor":"Around_FE1.Steric hindrance x Flexibility","value":-0.57},
{"model":"XGB_12_3","descriptor":"Around_FE1.Steric hindrance x Flexibility","value":-0.57},
{"model":"XGB_12_4","descriptor":"Around_FE1.Steric hindrance x Flexibility","value":-0.57},
{"model":"XGB_12_5","descriptor":"Around_FE1.Steric hindrance x Flexibility","value":-0.57},
{"model":"XGB_13_3","descriptor":"Around_FE1.Steric hindrance x Flexibility","value":-0.57},
{"model":"XGB_13_4","descriptor":"Around_FE1.Steric hindrance x Flexibility","value":-0.57},
{"model":"XGB_13_5","descriptor":"Around_FE1.Steric hindrance x Flexibility","value":-0.57},
{"model":"XGB_14_3","descriptor":"Around_FE1.Steric hindrance x Flexibility","value":-0.57},
{"model":"XGB_14_4","descriptor":"Around_FE1.Steric hindrance x Flexibility","value":-0.57},
{"model":"XGB_14_5","descriptor":"Around_FE1.Steric hindrance x Flexibility","value":-0.57},
{"model":"XGB_15_3","descriptor":"Around_FE1.Steric hindrance x Flexibility","value":-0.57},
{"model":"XGB_15_4","descriptor":"Around_FE1.Steric hindrance x Flexibility","value":-0.57},
{"model":"XGB_15_5","descriptor":"Around_FE1.Steric hindrance x Flexibility","value":-0.57},
{"model":"XGB_16_3","descriptor":"Around_FE1.Steric hindrance x Flexibility","value":-0.57},
{"model":"XGB_16_4","descriptor":"Around_FE1.Steric hindrance x Flexibility","value":-0.57},
{"model":"XGB_16_5","descriptor":"Around_FE1.Steric hindrance x Flexibility","value":-0.57},
{"model":"XGB_8_3","descriptor":"Protein.TRP","value":0.7},
{"model":"XGB_8_4","descriptor":"Protein.TRP","value":0.7},
{"model":"XGB_8_5","descriptor":"Protein.TRP","value":0.7},
{"model":"XGB_9_3","descriptor":"Protein.TRP","value":0.7},
{"model":"XGB_9_4","descriptor":"Protein.TRP","value":0.7},
{"model":"XGB_9_5","descriptor":"Protein.TRP","value":0.7},
{"model":"XGB_10_3","descriptor":"Protein.TRP","value":0.7},
{"model":"XGB_10_4","descriptor":"Protein.TRP","value":0.7},
{"model":"XGB_10_5","descriptor":"Protein.TRP","value":0.7},
{"model":"XGB_11_3","descriptor":"Protein.TRP","value":0.7},
{"model":"XGB_11_4","descriptor":"Protein.TRP","value":0.7},
{"model":"XGB_11_5","descriptor":"Protein.TRP","value":0.7},
{"model":"XGB_12_3","descriptor":"Protein.TRP","value":0.7},
{"model":"XGB_12_4","descriptor":"Protein.TRP","value":0.7},
{"model":"XGB_12_5","descriptor":"Protein.TRP","value":0.7},
{"model":"XGB_13_3","descriptor":"Protein.TRP","value":0.7},
{"model":"XGB_13_4","descriptor":"Protein.TRP","value":0.7},
{"model":"XGB_13_5","descriptor":"Protein.TRP","value":0.7},
{"model":"XGB_14_3","descriptor":"Protein.TRP","value":0.7},
{"model":"XGB_14_4","descriptor":"Protein.TRP","value":0.7},
{"model":"XGB_14_5","descriptor":"Protein.TRP","value":0.7},
{"model":"XGB_15_3","descriptor":"Protein.TRP","value":0.7},
{"model":"XGB_15_4","descriptor":"Protein.TRP","value":0.7},
{"model":"XGB_15_5","descriptor":"Protein.TRP","value":0.7},
{"model":"XGB_16_3","descriptor":"Protein.TRP","value":0.7},
{"model":"XGB_16_4","descriptor":"Protein.TRP","value":0.7},
{"model":"XGB_16_5","descriptor":"Protein.TRP","value":0.7},
{"model":"XGB_8_3","descriptor":"CofAtom.S1.HIS","value":0.6},
{"model":"XGB_8_4","descriptor":"CofAtom.S1.HIS","value":0.68},
{"model":"XGB_8_5","descriptor":"CofAtom.S1.HIS","value":0.68},
{"model":"XGB_9_3","descriptor":"CofAtom.S1.HIS","value":0.6},
{"model":"XGB_9_4","descriptor":"CofAtom.S1.HIS","value":0.68},
{"model":"XGB_9_5","descriptor":"CofAtom.S1.HIS","value":0.68},
{"model":"XGB_10_3","descriptor":"CofAtom.S1.HIS","value":0.6},
{"model":"XGB_10_4","descriptor":"CofAtom.S1.HIS","value":0.68},
{"model":"XGB_10_5","descriptor":"CofAtom.S1.HIS","value":0.68},
{"model":"XGB_11_3","descriptor":"CofAtom.S1.HIS","value":0.6},
{"model":"XGB_11_4","descriptor":"CofAtom.S1.HIS","value":0.68},
{"model":"XGB_11_5","descriptor":"CofAtom.S1.HIS","value":0.68},
{"model":"XGB_12_3","descriptor":"CofAtom.S1.HIS","value":0.6},
{"model":"XGB_12_4","descriptor":"CofAtom.S1.HIS","value":0.68},
{"model":"XGB_12_5","descriptor":"CofAtom.S1.HIS","value":0.68},
{"model":"XGB_13_3","descriptor":"CofAtom.S1.HIS","value":0.6},
{"model":"XGB_13_4","descriptor":"CofAtom.S1.HIS","value":0.68},
{"model":"XGB_13_5","descriptor":"CofAtom.S1.HIS","value":0.68},
{"model":"XGB_14_3","descriptor":"CofAtom.S1.HIS","value":0.6},
{"model":"XGB_14_4","descriptor":"CofAtom.S1.HIS","value":0.68},
{"model":"XGB_14_5","descriptor":"CofAtom.S1.HIS","value":0.68},
{"model":"XGB_15_3","descriptor":"CofAtom.S1.HIS","value":0.6},
{"model":"XGB_15_4","descriptor":"CofAtom.S1.HIS","value":0.68},
{"model":"XGB_15_5","descriptor":"CofAtom.S1.HIS","value":0.68},
{"model":"XGB_16_3","descriptor":"CofAtom.S1.HIS","value":0.6},
{"model":"XGB_16_4","descriptor":"CofAtom.S1.HIS","value":0.68},
{"model":"XGB_16_5","descriptor":"CofAtom.S1.HIS","value":0.68},
{"model":"XGB_8_3","descriptor":"S2.Nitrogen_around","value":0.07},
{"model":"XGB_8_4","descriptor":"S2.Nitrogen_around","value":0.41},
{"model":"XGB_8_5","descriptor":"S2.Nitrogen_around","value":0.18},
{"model":"XGB_9_3","descriptor":"S2.Nitrogen_around","value":0.07},
{"model":"XGB_9_4","descriptor":"S2.Nitrogen_around","value":0.41},
{"model":"XGB_9_5","descriptor":"S2.Nitrogen_around","value":0.18},
{"model":"XGB_10_3","descriptor":"S2.Nitrogen_around","value":0.07},
{"model":"XGB_10_4","descriptor":"S2.Nitrogen_around","value":0.41},
{"model":"XGB_10_5","descriptor":"S2.Nitrogen_around","value":0.18},
{"model":"XGB_11_3","descriptor":"S2.Nitrogen_around","value":0.07},
{"model":"XGB_11_4","descriptor":"S2.Nitrogen_around","value":0.41},
{"model":"XGB_11_5","descriptor":"S2.Nitrogen_around","value":0.18},
{"model":"XGB_12_3","descriptor":"S2.Nitrogen_around","value":0.07},
{"model":"XGB_12_4","descriptor":"S2.Nitrogen_around","value":0.41},
{"model":"XGB_12_5","descriptor":"S2.Nitrogen_around","value":0.18},
{"model":"XGB_13_3","descriptor":"S2.Nitrogen_around","value":0.07},
{"model":"XGB_13_4","descriptor":"S2.Nitrogen_around","value":0.41},
{"model":"XGB_13_5","descriptor":"S2.Nitrogen_around","value":0.18},
{"model":"XGB_14_3","descriptor":"S2.Nitrogen_around","value":0.07},
{"model":"XGB_14_4","descriptor":"S2.Nitrogen_around","value":0.41},
{"model":"XGB_14_5","descriptor":"S2.Nitrogen_around","value":0.18},
{"model":"XGB_15_3","descriptor":"S2.Nitrogen_around","value":0.07},
{"model":"XGB_15_4","descriptor":"S2.Nitrogen_around","value":0.41},
{"model":"XGB_15_5","descriptor":"S2.Nitrogen_around","value":0.18},
{"model":"XGB_16_3","descriptor":"S2.Nitrogen_around","value":0.07},
{"model":"XGB_16_4","descriptor":"S2.Nitrogen_around","value":0.41},
{"model":"XGB_16_5","descriptor":"S2.Nitrogen_around","value":0.18}
]
},
"spacing": 10,
"resolve": {"scale": {"color": "independent"}, "legend": {"color": "independent"}},
"vconcat": [
 {
  "title": {"text": "(a)", "orient": "bottom", "anchor": "middle", "font": "DejaVu Serif", "fontSize": 13, "fontWeight": "bold", "offset": 10, "dx": 22},
  "vconcat": [
   {
    "data": {"name": "imp"},
    "width": 498, "height": 204,
    "title": {"text": "Molecular descriptor importance", "frame": "group", "anchor": "middle", "fontSize": 12, "fontWeight": "normal", "offset": 4},
    "mark": {"type": "rect"},
    "encoding": {
     "x": {"field": "model", "type": "nominal", "sort": null, "scale": {"paddingInner": 0, "paddingOuter": 0}, "axis": {"title": "Model", "labelAngle": -90}},
     "y": {"field": "descriptor", "type": "nominal", "sort": null, "scale": {"paddingInner": 0, "paddingOuter": 0}, "axis": {"title": "Molecular Descriptor"}},
     "color": {"field": "value", "type": "quantitative",
      "scale": {"domain": [0, 129.6], "range": ["#c20041", "#e12c4c", "#f7643f", "#fca85c", "#fedd8f", "#fefdbc", "#dff29c", "#9ade9f", "#00bfac", "#0087c0", "#5e4fa5"]},
      "legend": {"orient": "none", "legendX": 530, "legendY": -4, "direction": "vertical", "gradientLength": 212, "gradientThickness": 10, "gradientStrokeWidth": 0, "values": [0, 20, 40, 60, 80, 100, 120], "labelOffset": 5, "labelOverlap": false, "title": null}}
    }
   }
  ]
 },
 {
  "title": {"text": "(b)", "orient": "bottom", "anchor": "middle", "font": "DejaVu Serif", "fontSize": 13, "fontWeight": "bold", "offset": 10, "dx": 22},
  "vconcat": [
   {
    "data": {"name": "cor"},
    "width": 498, "height": 202,
    "title": {"text": "Correlation between redox potential and molecular descriptor values", "frame": "group", "anchor": "middle", "fontSize": 12, "fontWeight": "normal", "offset": 4},
    "mark": {"type": "rect"},
    "encoding": {
     "x": {"field": "model", "type": "nominal", "sort": null, "scale": {"paddingInner": 0, "paddingOuter": 0}, "axis": {"title": "Model", "labelAngle": -90}},
     "y": {"field": "descriptor", "type": "nominal", "sort": null, "scale": {"paddingInner": 0, "paddingOuter": 0}, "axis": {"title": "Molecular Descriptor"}},
     "color": {"field": "value", "type": "quantitative",
      "scale": {"domain": [-0.8, 0.755], "range": ["#c20041", "#e12c4c", "#f7643f", "#fca85c", "#fedd8f", "#fefdbc", "#dff29c", "#9ade9f", "#00bfac", "#0087c0", "#5e4fa5"]},
      "legend": {"orient": "none", "legendX": 530, "legendY": -5, "direction": "vertical", "gradientLength": 211, "gradientThickness": 10, "gradientStrokeWidth": 0, "values": [-0.8, -0.6, -0.4, -0.2, 0, 0.2, 0.4, 0.6], "format": ".1f", "labelOffset": 5, "labelOverlap": false, "title": null}}
    }
   }
  ]
 }
]
}
